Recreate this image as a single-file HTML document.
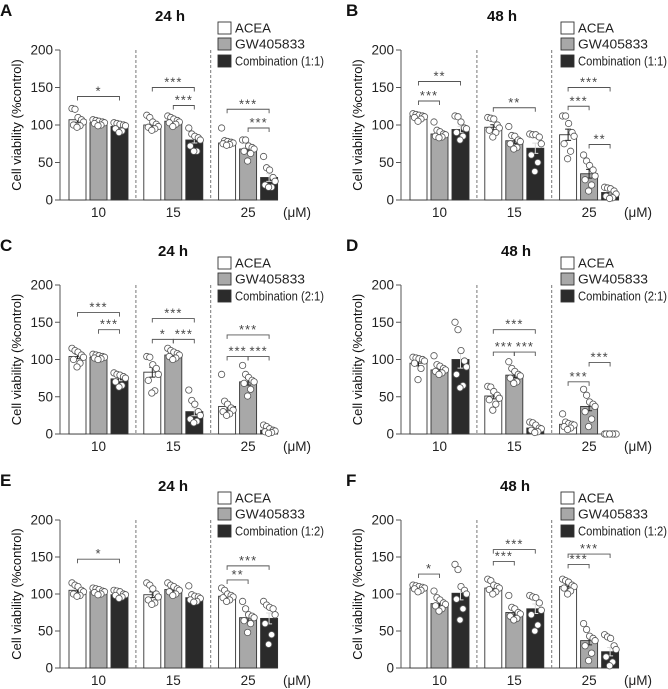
<!DOCTYPE html>
<html><head><meta charset="utf-8"><style>
html,body{margin:0;padding:0;background:#fff}
svg{display:block;font-family:"Liberation Sans",Arial,sans-serif}
</style></head><body>
<svg id="fig" width="668" height="689" viewBox="0 0 668 689"></svg>
<script>
const groups = ["10", "15", "25"];
const seriesNames = ["ACEA", "GW405833", "Combination"];
const yTicks = [0, 50, 100, 150, 200];
const panelLetters = ["A", "B", "C", "D", "E", "F"];
const panelTitles = ["24 h", "48 h", "24 h", "48 h", "24 h", "48 h"];
const ratios = ["1:1", "1:1", "2:1", "2:1", "1:2", "1:2"];
// means [panel][group][series]
const means = [
 [[107,103,98],[100,105,80],[76,68,30]],
 [[112,88,94],[97,79,69],[87,35,10]],
 [[104,103,74],[83,106,30],[37,70,5]],
 [[95,86,100],[51,79,8],[13,37,0]],
 [[105,103,99],[99,106,95],[97,68,67]],
 [[108,87,101],[108,75,80],[110,37,22]]
];
// individual points [panel][group][series][]
const points = [
 [[[122,121,110,107,104,100,99,97],[107,106,105,104,103,102,100,99],[103,102,101,100,99,95,92,90]],
  [[113,110,104,101,98,97,95,93],[112,110,108,106,104,103,101,98],[96,88,85,83,80,72,65,65]],
  [[96,79,78,77,76,75,74,73],[80,80,72,70,68,65,62,52],[58,43,40,30,25,20,17,17]]],
 [[[115,114,113,112,111,110,108,105],[104,93,91,88,87,85,84,83],[112,111,104,96,95,90,85,80]],
  [[110,109,108,100,96,93,90,84],[98,86,85,80,78,75,70,68],[88,87,87,84,75,60,50,38]],
  [[112,112,102,90,85,75,65,55],[60,52,46,40,32,27,20,12],[17,16,15,12,8,5,3,2]]],
 [[[115,112,110,106,103,100,95,90],[107,106,105,104,103,102,101,100],[82,80,79,77,75,70,65,63]],
  [[104,103,93,88,80,72,58,55],[115,112,110,108,106,104,102,100],[59,45,40,30,25,20,17,15]],
  [[80,44,40,35,32,30,27,25],[92,80,76,72,70,68,60,51],[12,10,7,5,4,3,2,1]]],
 [[[103,102,101,100,98,95,88,73],[105,93,91,88,86,84,82,80],[150,140,112,98,90,80,65,62]],
  [[64,63,57,52,48,46,40,32],[97,88,84,80,78,75,70,68],[16,15,12,8,7,5,3,2]],
  [[27,16,14,13,12,10,8,6],[60,52,43,40,37,30,20,10],[0,0,0,0,0,0,0,0]]],
 [[[115,112,110,105,103,100,98,97],[108,107,106,104,103,102,100,99],[105,104,103,100,99,98,96,94]],
  [[115,112,107,100,96,92,88,86],[115,112,110,107,105,103,100,98],[111,99,97,96,94,92,90,89]],
  [[108,105,100,98,96,95,92,90],[90,80,72,70,68,64,60,48],[90,85,82,80,72,60,45,32]]],
 [[[112,111,110,109,108,107,105,103],[104,95,92,88,86,84,80,77],[140,133,110,105,100,93,80,65]],
  [[120,118,112,110,108,106,103,100],[98,82,80,75,73,70,67,65],[98,96,95,88,78,72,58,50]],
  [[120,118,116,112,110,108,104,100],[60,52,43,40,37,30,20,10],[45,42,40,30,25,15,8,3]]]
];
// significance brackets [panel][]: [group, fromSeries, toSeries, yValue, stars]
const sig = [
 [[0,0,2,138,"*"],[1,0,2,150,"***"],[1,1,2,126,"***"],[2,0,2,121,"***"],[2,1,2,96,"***"]],
 [[0,0,2,158,"**"],[0,0,1,132,"***"],[1,0,2,123,"**"],[2,0,2,150,"***"],[2,0,1,125,"***"],[2,1,2,74,"**"]],
 [[0,0,2,163,"***"],[0,1,2,140,"***"],[1,0,2,155,"***"],[1,0,1,127,"*"],[1,1,2,127,"***"],[2,0,2,133,"***"],[2,0,1,104,"***"],[2,1,2,104,"***"]],
 [[1,0,2,140,"***"],[1,0,1,110,"***"],[1,1,2,110,"***"],[2,1,2,96,"***"],[2,0,1,70,"***"]],
 [[0,0,2,147,"*"],[2,0,2,138,"***"],[2,0,1,119,"**"]],
 [[0,0,1,127,"*"],[1,0,2,160,"***"],[1,0,1,144,"***"],[2,0,2,154,"***"],[2,0,1,140,"***"]]
];

const NS = "http://www.w3.org/2000/svg";
const svg = document.getElementById("fig");
function mk(tag, attrs, parent, text){
  const e = document.createElementNS(NS, tag);
  for (const k in attrs) e.setAttribute(k, attrs[k]);
  if (text !== undefined) e.textContent = text;
  (parent || svg).appendChild(e);
  return e;
}
const fills = ["#ffffff", "#a8a8a8", "#2b2b2b"];
const jitter = [-5.5, -2.5, 0.5, 4, 6, -4, 2.5, -0.5];
const titleX = [170, 502, 173, 516, 173, 515];
const rowY200 = [50, 285, 520];
const rowY0 = [200, 434, 668];

for (let p = 0; p < 6; p++) {
  const col = p % 2, row = Math.floor(p / 2);
  const ox = col * 334;
  const ax = ox + (col ? 67 : 60);
  const y200 = rowY200[row], y0 = rowY0[row];
  const yS = v => y0 - (v / 200) * (y0 - y200);
  const gX = g => ax + 38.5 + g * 74.8;
  const bX = (g, s) => gX(g) + (s - 1) * 21;
  const g = mk("g", {}, svg);
  
  

  const lab = mk("text", {x: ox + (col ? 12 : 0), y: y200 - 34, "font-size": 17, "font-weight": "bold", fill: "#111"}, g, panelLetters[p]);
  
  
  const tt = mk("text", {x: titleX[p], y: y200 - 29, "font-size": 15, "font-weight": "bold", "text-anchor": "middle", fill: "#111"}, g, panelTitles[p]);
  
  

  const yl = mk("text", {x: 0, y: 0, "font-size": 13, "text-anchor": "middle", fill: "#111",
    transform: `translate(${ax - 39},${(y0 + y200) / 2}) rotate(-90)`}, g, "Cell viability (%control)");
  
  

  const ya = mk("line", {x1: ax, y1: y200, x2: ax, y2: y0, stroke: "#555", "stroke-width": 1}, g);
  
  
  yTicks.forEach(t => {
    const y = yS(t);
    const tk = mk("line", {x1: ax - 5, y1: y, x2: ax, y2: y, stroke: "#555", "stroke-width": 1}, g);
    
    
    const tl = mk("text", {x: ax - 7, y: y + 4.5, "font-size": 13.5, "text-anchor": "end", fill: "#222"}, g, String(t));
    
    
  });
  const xa = mk("line", {x1: ax, y1: y0, x2: ax + 218, y2: y0, stroke: "#555", "stroke-width": 1}, g);
  
  
  [0, 1].forEach(i => {
    const x = (gX(i) + gX(i + 1)) / 2;
    const dl = mk("line", {x1: x, y1: y200, x2: x, y2: y0, stroke: "#777", "stroke-width": 1, "stroke-dasharray": "3,2"}, g);
    
    
  });
  groups.forEach((lbl, gi) => {
    const xl = mk("text", {x: gX(gi), y: y0 + 17, "font-size": 13.5, "text-anchor": "middle", fill: "#222"}, g, lbl);
    
    
  });
  const um = mk("text", {x: ax + 223, y: y0 + 17, "font-size": 13.5, fill: "#222"}, g, "(μM)");
  
  

  for (let gi = 0; gi < 3; gi++) for (let s = 0; s < 3; s++) {
    const m = means[p][gi][s];
    const cx = bX(gi, s);
    const b = mk("rect", {x: cx - 8.5, y: yS(m), width: 17, height: y0 - yS(m), fill: fills[s], stroke: "#333", "stroke-width": 0.9}, g);
    
    
    const pts = points[p][gi][s];
    const n = pts.length;
    const mean = pts.reduce((a, c) => a + c, 0) / n;
    const sd = Math.sqrt(pts.reduce((a, c) => a + (c - mean) * (c - mean), 0) / (n - 1));
    const sem = sd / Math.sqrt(n);
    const eb = mk("path", {d: `M${cx},${yS(m - sem)}V${yS(m + sem)}M${cx - 3},${yS(m + sem)}H${cx + 3}M${cx - 3},${yS(m - sem)}H${cx + 3}`,
      stroke: s === 2 ? "#ddd" : "#222", "stroke-width": 1, fill: "none"}, g);
    
    
    pts.forEach((v, k) => {
      const c = mk("circle", {cx: cx + jitter[k], cy: yS(v), r: 3.2, fill: "#fff",
        stroke: "#555", "stroke-width": 0.8}, g);
      
      
    });
  }

  sig[p].forEach(([gi, a, b2, v, st]) => {
    const x1 = bX(gi, a), x2 = bX(gi, b2), y = yS(v);
    const br = mk("path", {d: `M${x1},${y + 4}V${y}H${x2}V${y + 4}`, stroke: "#555", "stroke-width": 0.9, fill: "none"}, g);
    
    
    const sx = mk("text", {x: (x1 + x2) / 2, y: y - 1, "font-size": 13, "text-anchor": "middle", fill: "#444", "letter-spacing": 1}, g, st);
    
    
  });

  const lx = ox + (col ? 227 : 218);
  const legendLabels = ["ACEA", "GW405833", "Combination (" + ratios[p] + ")"];
  const legendLen = [36, 70, 89];
  [-22, -6, 11].forEach((dy, s) => {
    const cy = y200 + dy;
    const le = mk("g", {}, g);
    
    
    mk("rect", {x: lx, y: cy - 6, width: 13, height: 12, fill: fills[s], stroke: "#333", "stroke-width": 0.9}, le);
    mk("text", {x: lx + 17, y: cy + 4.5, "font-size": 13, fill: "#222", textLength: legendLen[s], lengthAdjust: "spacingAndGlyphs"}, le, legendLabels[s]);
  });
}
</script>
</body></html>
